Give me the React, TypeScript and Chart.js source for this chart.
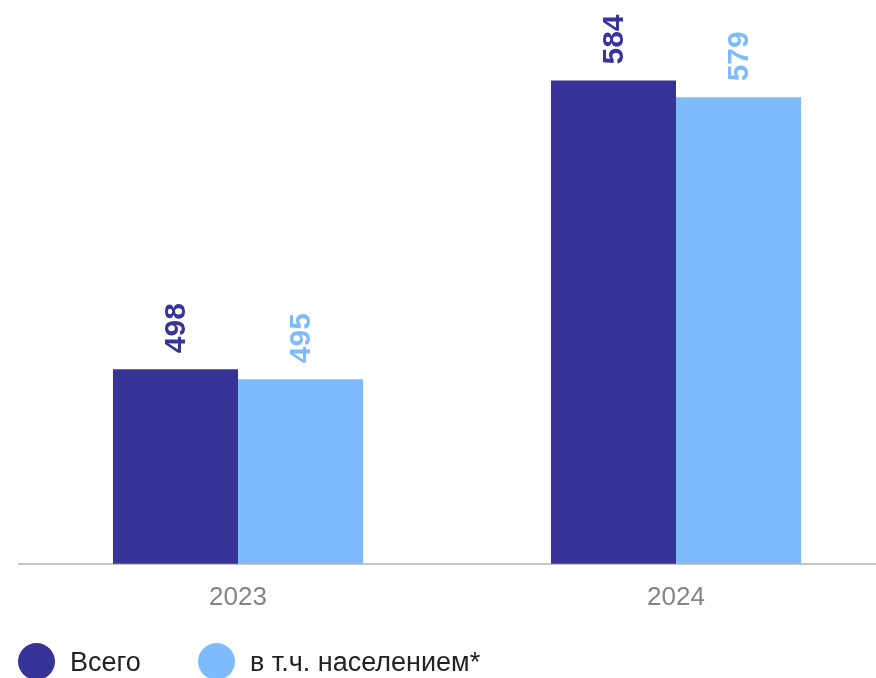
import React, { useEffect, useRef } from "react";
import { Chart, registerables } from "chart.js";

Chart.register(...registerables);

const categories = ["2023", "2024"];
const totalValues = [498, 584];
const populationValues = [495, 579];
const seriesNames = ["Всего", "в т.ч. населением*"];
const seriesColors = ["#383396", "#7FBBFA"];

const FONT = "'Liberation Sans', Arial, sans-serif";

const valueLabels = {
  id: "valueLabels",
  afterDatasetsDraw(chart: any) {
    const ctx = chart.ctx;
    chart.data.datasets.forEach((ds: any, i: number) => {
      const meta = chart.getDatasetMeta(i);
      meta.data.forEach((el: any, j: number) => {
        ctx.save();
        ctx.translate(el.x + 1, el.y - 16);
        ctx.rotate(-Math.PI / 2);
        ctx.font = `bold 30px ${FONT}`;
        ctx.fillStyle = ds.backgroundColor;
        ctx.textAlign = "left";
        ctx.textBaseline = "middle";
        ctx.fillText(String(ds.data[j]), 0, 0);
        ctx.restore();
      });
    });
  },
};

export default function App() {
  const ref = useRef<HTMLCanvasElement>(null);
  useEffect(() => {
    if (!ref.current) return;
    const chart = new Chart(ref.current, {
      type: "bar",
      data: {
        labels: categories,
        datasets: [
          { label: seriesNames[0], data: totalValues, backgroundColor: seriesColors[0] },
          { label: seriesNames[1], data: populationValues, backgroundColor: seriesColors[1] },
        ],
      },
      options: {
        animation: false,
        responsive: true,
        maintainAspectRatio: false,
        layout: { padding: { left: 19, right: 0, top: 0, bottom: 30 } },
        datasets: { bar: { categoryPercentage: 0.571, barPercentage: 1 } },
        plugins: { legend: { display: false }, tooltip: { enabled: false } },
        scales: {
          x: {
            grid: { display: false, drawTicks: false },
            border: { display: true, color: "#C4C4C4", width: 2 },
            ticks: { color: "#848484", font: { family: FONT, size: 26 }, padding: 18 },
          },
          y: { display: false, min: 440, max: 608 },
        },
      },
      plugins: [valueLabels],
    });
    return () => chart.destroy();
  }, []);

  const legendItem = (i: number, circleX: number, textX: number) => (
    <React.Fragment key={i}>
      <div
        style={{
          position: "absolute",
          left: circleX - 18.5,
          top: 643,
          width: 37,
          height: 37,
          borderRadius: "50%",
          background: seriesColors[i],
        }}
      />
      <div
        style={{
          position: "absolute",
          left: textX,
          top: 649,
          fontFamily: FONT,
          fontSize: 27,
          lineHeight: "27px",
          color: "#222222",
          whiteSpace: "nowrap",
        }}
      >
        {seriesNames[i]}
      </div>
    </React.Fragment>
  );

  return (
    <div style={{ position: "fixed", left: 0, top: 0, width: 876, height: 678, overflow: "hidden" }}>
      <div style={{ position: "absolute", left: 0, top: 0, width: 895, height: 661 }}>
        <canvas ref={ref} />
      </div>
      {legendItem(0, 36, 70)}
      {legendItem(1, 216, 250)}
    </div>
  );
}
